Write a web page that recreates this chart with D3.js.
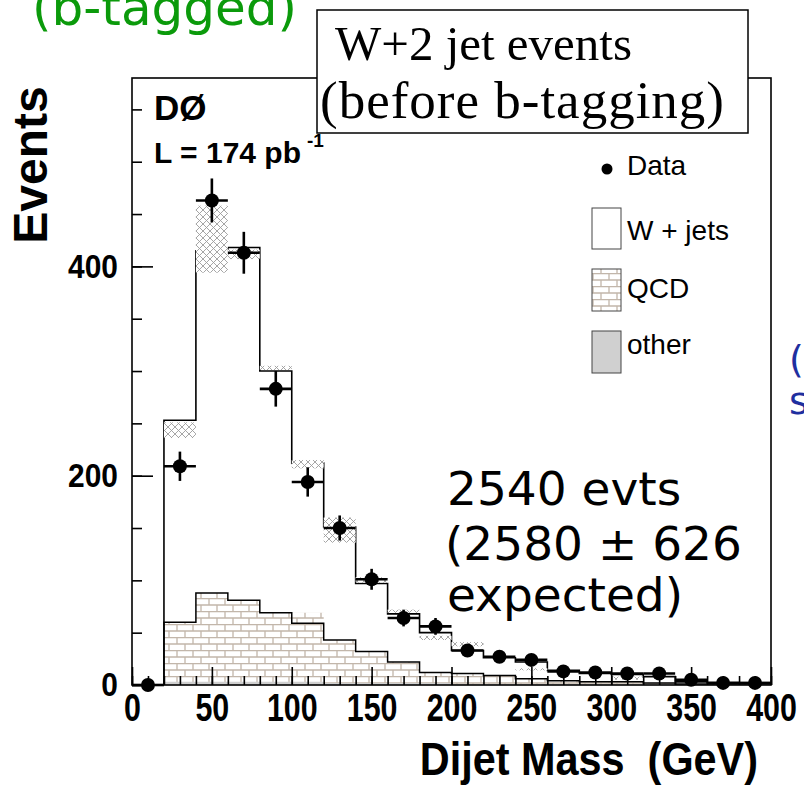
<!DOCTYPE html>
<html>
<head>
<meta charset="utf-8">
<script src="https://cdn.jsdelivr.net/npm/d3@7"></script>
<style>
  body { margin: 0; background: #fff; }
  svg { display: block; }
</style>
</head>
<body>
<div id="chart"></div>
<script>
// bin edges of the histograms (GeV)
var binEdges = [20, 40, 60, 80, 100, 120, 140, 160, 180, 200, 220, 240, 260, 280, 300, 320, 340, 360, 380, 400];
// W + jets stacked prediction (outline)
var totalPred = [253, 415, 418, 300, 212, 151, 97, 68, 50, 33, 26, 22, 14, 11, 10, 8, 3, 2, 2];
// uncertainty band on the prediction (null = not drawn)
var bandLo = [236, 394, 407, 301, 207, 136, 98, 69, 43, 37, null, 14, null, null, 5, null, null, null, null];
var bandHi = [251, 458, 416, 305, 215, 160, 103, 72, 47, 41, null, 16, null, null, 8, null, null, null, null];
// QCD (brick fill) and its outline
var qcdFill = [60, 88, 81, 69, 69, 43, 32, 22, 12, 11, 9, 6, 4, 3, 3, 2, 1, 1, 1];
var qcdLine = [60, 88, 81, 69, 59, 43, 32, 22, 12, 11, 9, 6, 4, 3, 3, 2, 1, 1, 1];
// other backgrounds
var otherFill = [3, 3, 3, 3, 3, 2, 2, 2, 2, 1, 1, 1, 1, 1, 1, 1, 1, 0, 0];
// data points
var dataX = [10, 30, 50, 70, 90, 110, 130, 150, 170, 190, 210, 230, 250, 270, 290, 310, 330, 350, 370, 390];
var dataY = [0, 209, 463, 413, 283, 194, 150, 101, 64, 56, 33, 27, 24, 13, 12, 11, 11, 5, 2, 2];
var dataErr = [0, 14, 21, 20, 17, 14, 12, 10, 8, 8, 6, 5, 5, 4, 3, 3, 3, 2, 1, 1];
// tick labels
var xTickLabels = [0, 50, 100, 150, 200, 250, 300, 350, 400];
var yTickLabels = [0, 200, 400];

var W = 804, H = 798;
var frame = {left: 132, right: 771, top: 78, bottom: 685};
var binHalf = 10;

var svg = d3.select('#chart').append('svg')
	.attr('width', W)
	.attr('height', H);

var x = d3.scaleLinear().domain([0, 400]).range([frame.left, frame.right]);
var y = d3.scaleLinear().domain([0, 580]).range([frame.bottom, frame.top]);

var defs = svg.append('defs');
// brick pattern for QCD
var brick = defs.append('pattern')
	.attr('id', 'brick')
	.attr('patternUnits', 'userSpaceOnUse')
	.attr('width', 16).attr('height', 13);
brick.append('rect').attr('width', 16).attr('height', 13).attr('fill', '#fff');
brick.append('path')
	.attr('d', 'M0,0.5H16M0,7H16M1,0.5V7M9,7V13')
	.attr('stroke', '#c2b6aa')
	.attr('stroke-width', 1.3)
	.attr('fill', 'none');
// cross hatch for the uncertainty band
var hatch = defs.append('pattern')
	.attr('id', 'hatch')
	.attr('patternUnits', 'userSpaceOnUse')
	.attr('width', 7).attr('height', 7);
hatch.append('rect').attr('width', 7).attr('height', 7).attr('fill', '#fff');
hatch.append('path')
	.attr('d', 'M0,0L7,7M7,0L0,7')
	.attr('stroke', '#9c9c9c')
	.attr('stroke-width', 0.9)
	.attr('fill', 'none');

// step points for a binned histogram
function stepPoints(vals) {
	var pts = [[binEdges[0], 0]];
	vals.forEach(function(v, i) {
		pts.push([binEdges[i], v]);
		pts.push([binEdges[i + 1], v]);
	});
	pts.push([binEdges[binEdges.length - 1], 0]);
	return pts;
}
var line = d3.line().x(function(d) { return x(d[0]); }).y(function(d) { return y(d[1]); });

// QCD brick fill
svg.append('path')
	.attr('d', line(stepPoints(qcdFill)) + 'Z')
	.attr('fill', 'url(#brick)');
// other (gray)
svg.append('path')
	.attr('d', line(stepPoints(otherFill)) + 'Z')
	.attr('fill', '#cfcfcf');
// QCD outline
svg.append('path')
	.attr('d', line(stepPoints(qcdLine)))
	.attr('fill', 'none')
	.attr('stroke', '#000')
	.attr('stroke-width', 1.5);
// total prediction outline
svg.append('path')
	.attr('d', line(stepPoints(totalPred)))
	.attr('fill', 'none')
	.attr('stroke', '#000')
	.attr('stroke-width', 1.6);

// uncertainty band
svg.append('g').selectAll('rect')
	.data(bandLo.map(function(lo, i) { return {lo: lo, hi: bandHi[i], i: i}; }).filter(function(d) { return d.lo != null; }))
	.enter().append('rect')
	.attr('x', function(d) { return x(binEdges[d.i]); })
	.attr('width', function(d) { return x(binEdges[d.i + 1]) - x(binEdges[d.i]); })
	.attr('y', function(d) { return y(d.hi); })
	.attr('height', function(d) { return y(d.lo) - y(d.hi); })
	.attr('fill', 'url(#hatch)');

// data points with error bars
var pts = svg.append('g').selectAll('g')
	.data(dataX.map(function(v, i) { return {x: v, y: dataY[i], e: dataErr[i]}; }))
	.enter().append('g');
pts.append('line')
	.attr('x1', function(d) { return x(d.x - binHalf); })
	.attr('x2', function(d) { return x(d.x + binHalf); })
	.attr('y1', function(d) { return y(d.y); })
	.attr('y2', function(d) { return y(d.y); })
	.attr('stroke', '#000').attr('stroke-width', 2.6);
pts.append('line')
	.attr('x1', function(d) { return x(d.x); })
	.attr('x2', function(d) { return x(d.x); })
	.attr('y1', function(d) { return y(d.y - d.e); })
	.attr('y2', function(d) { return y(d.y + d.e); })
	.attr('stroke', '#000').attr('stroke-width', 2.6);
pts.append('circle')
	.attr('cx', function(d) { return x(d.x); })
	.attr('cy', function(d) { return y(d.y); })
	.attr('r', 7)
	.attr('fill', '#000');

// frame
svg.append('rect')
	.attr('x', frame.left).attr('y', frame.top)
	.attr('width', frame.right - frame.left)
	.attr('height', frame.bottom - frame.top)
	.attr('fill', 'none')
	.attr('stroke', '#000')
	.attr('stroke-width', 1.6);

// axes
var xMinor = svg.append('g')
	.attr('transform', 'translate(0,' + frame.bottom + ')')
	.call(d3.axisBottom(x).tickValues(d3.range(0, 401, 10)).tickSize(-9).tickFormat(''));
var xMajor = svg.append('g')
	.attr('transform', 'translate(0,' + frame.bottom + ')')
	.call(d3.axisBottom(x).tickValues(xTickLabels).tickSize(-18).tickPadding(9));
var yMinor = svg.append('g')
	.attr('transform', 'translate(' + frame.left + ',0)')
	.call(d3.axisLeft(y).tickValues(d3.range(0, 551, 50)).tickSize(-10).tickFormat(''));
var yMajor = svg.append('g')
	.attr('transform', 'translate(' + frame.left + ',0)')
	.call(d3.axisLeft(y).tickValues(yTickLabels).tickSize(-21).tickPadding(16));

[xMinor, xMajor, yMinor, yMajor].forEach(function(g) {
	g.select('.domain').remove();
	g.selectAll('line').attr('stroke', '#000').attr('stroke-width', 1.6);
});
xMajor.selectAll('text')
	.attr('fill', '#000')
	.style('font-family', 'Liberation Sans, Arial, sans-serif')
	.style('font-weight', 'bold')
	.style('font-size', '38px')
	.attr('transform', 'scale(0.8,1)');
yMajor.selectAll('text')
	.attr('fill', '#000')
	.style('font-family', 'Liberation Sans, Arial, sans-serif')
	.style('font-weight', 'bold')
	.style('font-size', '34px')
	.attr('transform', 'scale(0.88,1)');

// axis titles
svg.append('text')
	.attr('transform', 'translate(47,165) rotate(-90)')
	.attr('text-anchor', 'middle')
	.style('font-family', 'Liberation Sans, Arial, sans-serif')
	.style('font-weight', 'bold')
	.style('font-size', '48px')
	.text('Events');
svg.append('text')
	.attr('transform', 'translate(758,775) scale(0.9,1)')
	.attr('text-anchor', 'end')
	.style('white-space', 'pre')
	.style('font-family', 'Liberation Sans, Arial, sans-serif')
	.style('font-weight', 'bold')
	.style('font-size', '46px')
	.text('Dijet Mass  (GeV)');

// experiment labels
svg.append('text')
	.attr('x', 154).attr('y', 120)
	.style('font-family', 'Liberation Sans, Arial, sans-serif')
	.style('font-weight', 'bold')
	.style('font-size', '35px')
	.text('DØ');
var lumi = svg.append('text')
	.attr('x', 154).attr('y', 163)
	.style('font-family', 'Liberation Sans, Arial, sans-serif')
	.style('font-weight', 'bold')
	.style('font-size', '30px')
	.text('L = 174 pb');
lumi.append('tspan')
	.attr('dx', 6).attr('dy', -16)
	.style('font-size', '19px')
	.text('-1');

// legend
var legX = 592, legW = 29, legTextX = 627;
var legFont = 'Liberation Sans, Arial, sans-serif';
svg.append('circle').attr('cx', 607).attr('cy', 169).attr('r', 5.5).attr('fill', '#000');
svg.append('text').attr('x', legTextX).attr('y', 175)
	.style('font-family', legFont).style('font-size', '28px').text('Data');
svg.append('rect').attr('x', legX).attr('y', 208).attr('width', legW).attr('height', 41)
	.attr('fill', '#fff').attr('stroke', '#444').attr('stroke-width', 1);
svg.append('text').attr('x', legTextX).attr('y', 240)
	.style('font-family', legFont).style('font-size', '28px').text('W + jets');
svg.append('rect').attr('x', legX).attr('y', 269).attr('width', legW).attr('height', 42)
	.attr('fill', 'url(#brick)').attr('stroke', '#444').attr('stroke-width', 1);
svg.append('text').attr('x', legTextX).attr('y', 298)
	.style('font-family', legFont).style('font-size', '28px').text('QCD');
svg.append('rect').attr('x', legX).attr('y', 331).attr('width', legW).attr('height', 42)
	.attr('fill', '#d0d0d0').attr('stroke', '#444').attr('stroke-width', 1);
svg.append('text').attr('x', legTextX).attr('y', 354)
	.style('font-family', legFont).style('font-size', '28px').text('other');

// title box
svg.append('rect')
	.attr('x', 317).attr('y', 10)
	.attr('width', 431).attr('height', 123)
	.attr('fill', '#fff')
	.attr('stroke', '#000')
	.attr('stroke-width', 1.5);
svg.append('text').attr('x', 335).attr('y', 60)
	.style('font-family', 'Liberation Serif, Times New Roman, serif')
	.style('font-size', '49px')
	.text('W+2 jet events');
svg.append('text').attr('x', 320).attr('y', 118)
	.style('font-family', 'Liberation Serif, Times New Roman, serif')
	.style('font-size', '53px')
	.style('letter-spacing', '1px')
	.text('(before b-tagging)');

// slide annotations
var comic = 'Comic Sans MS, DejaVu Sans, sans-serif';
svg.append('text').attr('x', 32).attr('y', 25)
	.style('font-family', comic).style('font-size', '50px')
	.attr('fill', '#0b9a0b')
	.text('(b-tagged)');
var ann = svg.append('text')
	.style('font-family', comic).style('font-size', '47px')
	.attr('fill', '#000');
ann.append('tspan').attr('x', 447).attr('y', 505).text('2540 evts');
ann.append('tspan').attr('x', 445).attr('y', 560).text('(2580 ± 626');
ann.append('tspan').attr('x', 447).attr('y', 611).text('expected)');
svg.append('text').attr('x', 789).attr('y', 372)
	.style('font-family', comic).style('font-size', '38px')
	.attr('fill', '#1f2f9f').text('(');
svg.append('text').attr('x', 789).attr('y', 414)
	.style('font-family', comic).style('font-size', '38px')
	.attr('fill', '#1f2f9f').text('s');
</script>
</body>
</html>
